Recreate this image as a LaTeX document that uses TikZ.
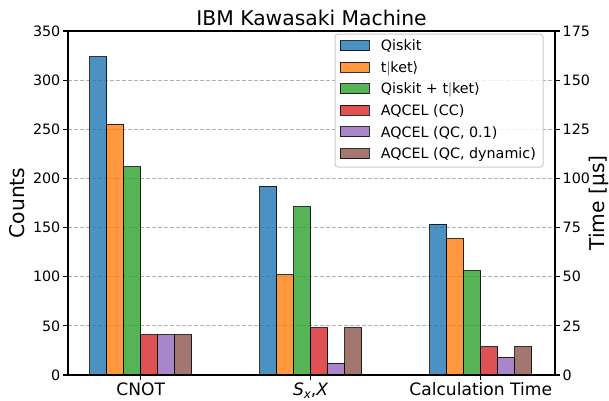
\documentclass[tikz,border=0pt]{standalone}
\usepackage{fontspec}
\setmainfont{DejaVu Sans}
\definecolor{tabblue}{HTML}{1F77B4}
\definecolor{taborange}{HTML}{FF7F0E}
\definecolor{tabgreen}{HTML}{2CA02C}
\definecolor{tabred}{HTML}{D62728}
\definecolor{tabpurple}{HTML}{9467BD}
\definecolor{tabbrown}{HTML}{8C564B}
\definecolor{gridgray}{HTML}{B0B0B0}
\definecolor{legedge}{HTML}{CCCCCC}
\newcommand{\ticksize}{\fontsize{14.3bp}{17bp}\selectfont}
\newcommand{\catsize}{\fontsize{17.1bp}{20bp}\selectfont}
\newcommand{\bigsize}{\fontsize{20.3bp}{24bp}\selectfont}
\begin{document}
\begin{tikzpicture}[x=1bp,y=1bp,
  barbox/.style={draw=black, draw opacity=0.8, fill opacity=0.8, line width=1bp},
  gridline/.style={draw=gridgray, line width=1bp, dash pattern=on 4.2bp off 1.8bp},
  tickline/.style={draw=black, line width=1.1bp},
  ticklabel/.style={font=\ticksize, inner sep=0pt},
  catlabel/.style={font=\catsize, inner sep=0pt, anchor=base},
  legpatch/.style={draw=black, draw opacity=0.8, fill opacity=0.8, line width=1bp},
  legtext/.style={font=\ticksize, inner sep=0pt, anchor=base west}
]
\useasboundingbox (0,0) rectangle (609,400);
\fill[white] (0,0) rectangle (609,400);

% data scope
\begin{scope}[shift={(0,25)}, yscale=0.98286]
  \foreach \v in {50,100,...,300} \draw[gridline] (68,\v) -- (555,\v);
  \foreach \c/\a/\b/\cc/\d/\e/\f in {140.7/324/255/212/41/41/41, 310.7/192/102/171/48/12/48, 480.7/153.5/138.5/106/29/18/29}{
    \draw[barbox, fill=tabblue]   (\c-51,0) rectangle (\c-34,\a);
    \draw[barbox, fill=taborange] (\c-34,0) rectangle (\c-17,\b);
    \draw[barbox, fill=tabgreen]  (\c-17,0) rectangle (\c,\cc);
    \draw[barbox, fill=tabred]    (\c,0) rectangle (\c+17,\d);
    \draw[barbox, fill=tabpurple] (\c+17,0) rectangle (\c+34,\e);
    \draw[barbox, fill=tabbrown]  (\c+34,0) rectangle (\c+51,\f);
  }
  \foreach \v in {0,50,...,350}{
    \draw[tickline] (63,\v) -- (68,\v);
    \node[ticklabel, anchor=east] (yl\v) at (60.5,\v) {\v};
    \draw[tickline] (555,\v) -- (560,\v);
    \pgfmathtruncatemacro{\r}{\v/2}
    \node[ticklabel, anchor=west] (yr\v) at (562.5,\v) {\r};
  }
\end{scope}

% axes frame
\draw[tickline] (68,25) rectangle (555,369);

% x ticks and category labels
\foreach \c in {140.7,310.7,480.7} \draw[tickline] (\c,25) -- (\c,20.5);
\node[catlabel] (c1) at (140.7,4.5) {CNOT};
\node[catlabel] (c2) at (310.7,4.5) {\textit{S}\raisebox{-2.5bp}{\fontsize{12}{12}\selectfont\itshape x},\textit{X}};
\node[catlabel] (c3) at (480.7,4.5) {Calculation Time};

% title and axis labels
\node[font=\bigsize, inner sep=0pt, anchor=base] (title) at (311.5,375) {IBM Kawasaki Machine};
\node[font=\bigsize, inner sep=0pt, rotate=90] (ylab) at (17,197) {Counts};
\node[font=\bigsize, inner sep=0pt, rotate=90] (y2lab) at (598.5,197) {Time [µs]};

% legend
\draw[draw=legedge, fill=white, fill opacity=0.8, line width=1bp, rounded corners=3bp] (335,233) rectangle (543,366);
\foreach \y/\col/\txt [count=\i] in {354.5/tabblue/Qiskit, 332.9/taborange/{t$|$ket\char"27E9}, 311.3/tabgreen/{Qiskit + t$|$ket\char"27E9}, 289.7/tabred/AQCEL (CC), 268.1/tabpurple/{AQCEL (QC, 0.1)}, 246.5/tabbrown/{AQCEL (QC, dynamic)}}{
  \draw[legpatch, fill=\col] (340,\y-5) rectangle (369,\y+5);
  \node[legtext] (leg\i) at (380.7,\y-5.2) {\txt};
}
\end{tikzpicture}
\end{document}
